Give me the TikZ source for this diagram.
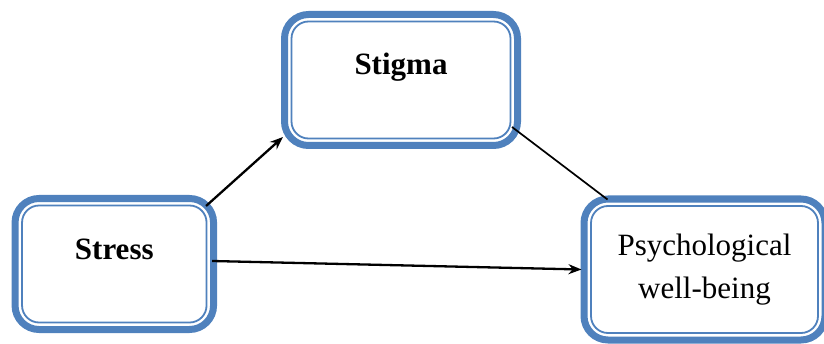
\documentclass[tikz,border=0pt]{standalone}
\usepackage{fontspec}
\setmainfont{Liberation Serif}
\usetikzlibrary{arrows.meta,calc}
\definecolor{boxblue}{HTML}{4F81BD}
\tikzset{
  box/.style={draw=boxblue, line width=7pt, rounded corners=24pt, fill=white,
    inner sep=0pt, font=\fontsize{31}{43}\selectfont},
  boldbox/.style={box, font=\fontsize{31}{43}\selectfont\bfseries, text height=20pt, text depth=30pt},
  innerline/.style={draw=boxblue, line width=1.8pt, rounded corners=17pt},
  arrowline/.style={line width=2.3pt, -{Stealth[length=13pt,width=10pt]}},
  plainline/.style={line width=1.7pt}
}
\begin{document}
\begin{tikzpicture}[x=1pt,y=1pt]
\useasboundingbox (0,0) rectangle (824,343);
\clip (0,0) rectangle (824,343);
\node[boldbox, minimum width=233pt, minimum height=131pt] (stigma) at (401,263) {Stigma};
\node[boldbox, minimum width=198.5pt, minimum height=131pt] (stress) at (114.3,79) {Stress};
\node[box, align=center, minimum width=241pt, minimum height=141pt] (psych) at (704.5,73.5) {Psychological\\well-being};
\draw[innerline] ($(stigma.north west)+(10.5,-10.5)$) rectangle ($(stigma.south east)+(-10.5,10.5)$);
\draw[innerline] ($(stress.north west)+(10.5,-10.5)$) rectangle ($(stress.south east)+(-10.5,10.5)$);
\draw[innerline] ($(psych.north west)+(10.5,-10.5)$) rectangle ($(psych.south east)+(-10.5,10.5)$);
\draw[arrowline] ($(stress.north east)+(-11,-11)$) -- ($(stigma.south west)+(2,12)$);
\draw[arrowline] ($(stress.east)+(-5,3)$) -- ($(psych.west)+(1,0)$);
\draw[plainline] ($(stigma.south east)+(-9,22)$) -- ($(psych.north west)+(27,-4)$);
\end{tikzpicture}
\end{document}
